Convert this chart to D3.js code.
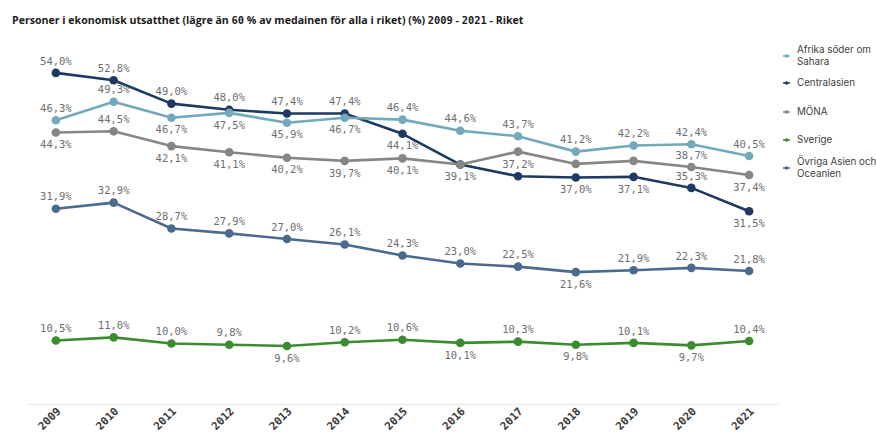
<!DOCTYPE html>
<html><head><meta charset="utf-8">
<script src="https://cdn.jsdelivr.net/npm/d3@7"></script>
<style>
html,body{margin:0;padding:0;background:#fff;}
svg{display:block;}
</style></head>
<body>
<svg id="chart" width="876" height="433"></svg>
<script>
const years = ["2009","2010","2011","2012","2013","2014","2015","2016","2017","2018","2019","2020","2021"];
const seriesNames = ["Afrika söder om Sahara","Centralasien","MÖNA","Sverige","Övriga Asien och Oceanien"];
const afrika      = [46.3,49.3,46.7,47.5,45.9,46.7,46.4,44.6,43.7,41.2,42.2,42.4,40.5];
const centralasien= [54.0,52.8,49.0,48.0,47.4,47.4,44.1,39.1,37.2,37.0,37.1,35.3,31.5];
const mona        = [44.3,44.5,42.1,41.1,40.2,39.7,40.1,39.1,41.2,39.2,39.7,38.7,37.4];
const sverige     = [10.5,11.0,10.0,9.8,9.6,10.2,10.6,10.1,10.3,9.8,10.1,9.7,10.4];
const ovriga      = [31.9,32.9,28.7,27.9,27.0,26.1,24.3,23.0,22.5,21.6,21.9,22.3,21.8];
const title = "Personer i ekonomisk utsatthet (lägre än 60 % av medainen för alla i riket) (%) 2009 - 2021 - Riket";

// label placement: a = above, b = below, - = hidden
const labelSides = {
  "Afrika söder om Sahara":   "aabbbbaaaaaaa",
  "Centralasien":             "aaaaaab-abbab",
  "MÖNA":                     "babbbbbb---ab",
  "Sverige":                  "aaaabaabababa",
  "Övriga Asien och Oceanien":"aaaaaaaaabaaa"
};
const colors = {
  "Afrika söder om Sahara":"#72a9bd",
  "Centralasien":"#1d3a63",
  "MÖNA":"#868686",
  "Sverige":"#3a8c2f",
  "Övriga Asien och Oceanien":"#4b6a8f"
};
const valuesByName = {
  "Afrika söder om Sahara":afrika,
  "Centralasien":centralasien,
  "MÖNA":mona,
  "Sverige":sverige,
  "Övriga Asien och Oceanien":ovriga
};
const drawOrder = ["Övriga Asien och Oceanien","Sverige","Centralasien","MÖNA","Afrika söder om Sahara"];

const svg = d3.select("#chart");
const x = d3.scalePoint().domain(years).range([27,778]).padding(0.5);
const y = d3.scaleLinear().domain([0,60]).range([405,36]);

// title with mono digits
const t = svg.append("text").attr("x",12).attr("y",24)
  .attr("font-family","'Open Sans', Roboto, sans-serif").attr("font-weight","bold")
  .attr("font-size","10.6px").attr("fill","#1a1a1a");
title.split(/(\d+)/).forEach(part=>{
  if(!part) return;
  const ts = t.append("tspan").text(part);
  if(/^\d+$/.test(part)) ts.attr("font-family","'DejaVu Sans Mono', monospace").attr("font-size","10.4px");
});

// x axis with rotated year labels
const axis = svg.append("g").attr("transform","translate(0,404)")
  .call(d3.axisBottom(x).tickSize(0).tickFormat(""));
axis.select(".domain").attr("stroke","#ececec").attr("stroke-width",1.5);
axis.selectAll(".tick").append("text")
  .attr("transform","translate(5,8) rotate(-45)")
  .attr("font-family","'DejaVu Sans Mono', monospace").attr("font-weight","bold")
  .attr("font-size","11px").attr("fill","#3a3a3a")
  .attr("text-anchor","end")
  .text(d=>d);

const line = d3.line().x((d,i)=>x(years[i])).y(d=>y(d));

const g = svg.append("g");
drawOrder.forEach(name=>{
  const vals = valuesByName[name];
  const sg = g.append("g");
  sg.append("path").datum(vals).attr("d",line).attr("fill","none")
    .attr("stroke",colors[name]).attr("stroke-width",2.6).attr("stroke-linejoin","round");
  sg.selectAll("circle").data(vals).join("circle")
    .attr("cx",(d,i)=>x(years[i])).attr("cy",d=>y(d)).attr("r",4.3)
    .attr("fill",colors[name]);
});

const lg = svg.append("g");
drawOrder.forEach(name=>{
  const vals = valuesByName[name];
  const sides = labelSides[name];
  const pts = vals.map((v,i)=>({v, i, side: sides[i]})).filter(p=>p.side!=="-");
  lg.selectAll(null).data(pts).join("text")
    .attr("x",p=>x(years[p.i]))
    .attr("y",p=>y(p.v) + (p.side==="a" ? -12 : 12))
    .attr("dy","0.35em").attr("text-anchor","middle")
    .attr("font-family","'DejaVu Sans Mono', monospace").attr("font-size","10.5px")
    .attr("fill","#6e6e6e")
    .text(p=>d3.format(".1f")(p.v).replace(".",",")+"%");
});

// legend
const legendRows = [
  {name:"Afrika söder om Sahara", lines:["Afrika söder om","Sahara"], y:50},
  {name:"Centralasien", lines:["Centralasien"], y:83},
  {name:"MÖNA", lines:["MÖNA"], y:112},
  {name:"Sverige", lines:["Sverige"], y:140},
  {name:"Övriga Asien och Oceanien", lines:["Övriga Asien och","Oceanien"], y:162}
];
const leg = svg.append("g");
legendRows.forEach(r=>{
  const my = r.y + (r.lines.length-1)*6;
  leg.append("line").attr("x1",783).attr("x2",790).attr("y1",my).attr("y2",my)
    .attr("stroke",colors[r.name]).attr("stroke-width",1.5);
  leg.append("circle").attr("cx",786.5).attr("cy",my).attr("r",1.8).attr("fill",colors[r.name]);
  r.lines.forEach((l,k)=>{
    leg.append("text").attr("x",797).attr("y",r.y+k*12).attr("dy","0.35em")
      .attr("font-family","Inter, 'Open Sans', sans-serif").attr("font-size","9.8px")
      .attr("fill","#404040").text(l);
  });
});
</script>
</body></html>
